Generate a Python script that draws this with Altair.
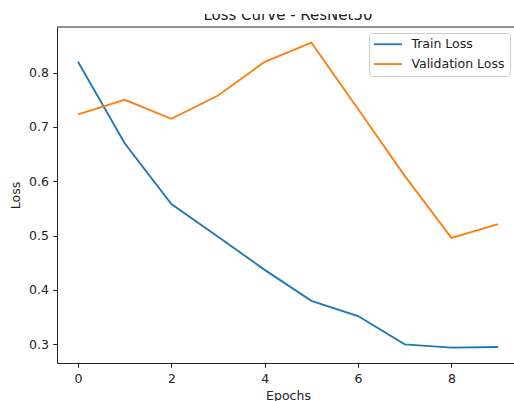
import altair as alt
import pandas as pd

# ---- data ----
epochs = [0, 1, 2, 3, 4, 5, 6, 7, 8, 9]
train_loss = [0.820, 0.670, 0.558, 0.498, 0.437, 0.380, 0.352, 0.300, 0.294, 0.295]
val_loss = [0.723, 0.750, 0.715, 0.758, 0.820, 0.855, 0.733, 0.610, 0.496, 0.521]
series_names = ["Train Loss", "Validation Loss"]
series_colors = ["#1f77b4", "#ff7f0e"]
x_ticks = [0, 2, 4, 6, 8]
y_ticks = [0.3, 0.4, 0.5, 0.6, 0.7, 0.8]
title_text = "Loss Curve - ResNet50"
x_title = "Epochs"
y_title = "Loss"

df = pd.DataFrame({
    "Epochs": epochs + epochs,
    "Loss": train_loss + val_loss,
    "Series": [series_names[0]] * len(epochs) + [series_names[1]] * len(epochs),
})

FONT = "DejaVu Sans"
INK = "#222222"
W, H = 457, 336

xscale = alt.Scale(domain=[-0.45, 9.341], nice=False, zero=False)
yscale = alt.Scale(domain=[0.2656, 0.884], nice=False, zero=False)

lines = alt.Chart(df).mark_line(strokeWidth=1.85).encode(
    x=alt.X("Epochs:Q", scale=xscale, axis=alt.Axis(
        values=x_ticks, format="d", grid=False, title=x_title,
        domainColor=INK, domainWidth=1, tickColor=INK, tickWidth=1, tickSize=4.3,
        labelFont=FONT, labelFontSize=12.5, labelColor=INK, labelPadding=5.5,
        titleFont=FONT, titleFontSize=12.5, titleColor=INK, titleFontWeight="normal",
        titleX=231, titleY=36, titleAlign="center", titleBaseline="alphabetic")),
    y=alt.Y("Loss:Q", scale=yscale, axis=alt.Axis(
        values=y_ticks, format=".1f", grid=False, title=y_title,
        domainColor=INK, domainWidth=1, tickColor=INK, tickWidth=1, tickSize=4.3,
        labelFont=FONT, labelFontSize=12.5, labelColor=INK, labelPadding=4.3,
        titleFont=FONT, titleFontSize=12.5, titleColor=INK, titleFontWeight="normal",
        titleAngle=270, titleX=-42, titleY=168, titleAlign="center", titleBaseline="middle")),
    color=alt.Color("Series:N", scale=alt.Scale(domain=series_names, range=series_colors),
                    legend=alt.Legend(
                        title=None, orient="none", legendX=312, legendY=6,
                        symbolType="M-1.34,0H4.66", symbolSize=87, symbolStrokeWidth=1.85,
                        labelFont=FONT, labelFontSize=12.5, labelColor=INK, labelOffset=24.9,
                        rowPadding=6.8, padding=5, fillColor="white",
                        strokeColor="#cccccc", cornerRadius=3)),
)

one = pd.DataFrame({"t": [title_text]})

top_spine = alt.Chart(one).mark_rule(color=INK, strokeWidth=1).encode(
    x=alt.value(0), x2=alt.value(W), y=alt.value(0))

title = alt.Chart(one).mark_text(font=FONT, fontSize=15, color=INK, align="center",
                                 baseline="alphabetic").encode(
    text="t:N", x=alt.value(231), y=alt.value(-7.3))

cover = alt.Chart(one).mark_rect(color="white").encode(
    x=alt.value(-57), x2=alt.value(W), y=alt.value(-27), y2=alt.value(-13))

chart = alt.layer(lines, top_spine, title, cover).properties(
    width=W, height=H,
    autosize=alt.AutoSizeParams(type="none"),
    padding={"left": 57, "top": 27, "right": 0, "bottom": 38},
    background="white",
).configure_view(strokeWidth=0)

chart.save("out.html", embed_options={"renderer": "svg", "actions": False})
